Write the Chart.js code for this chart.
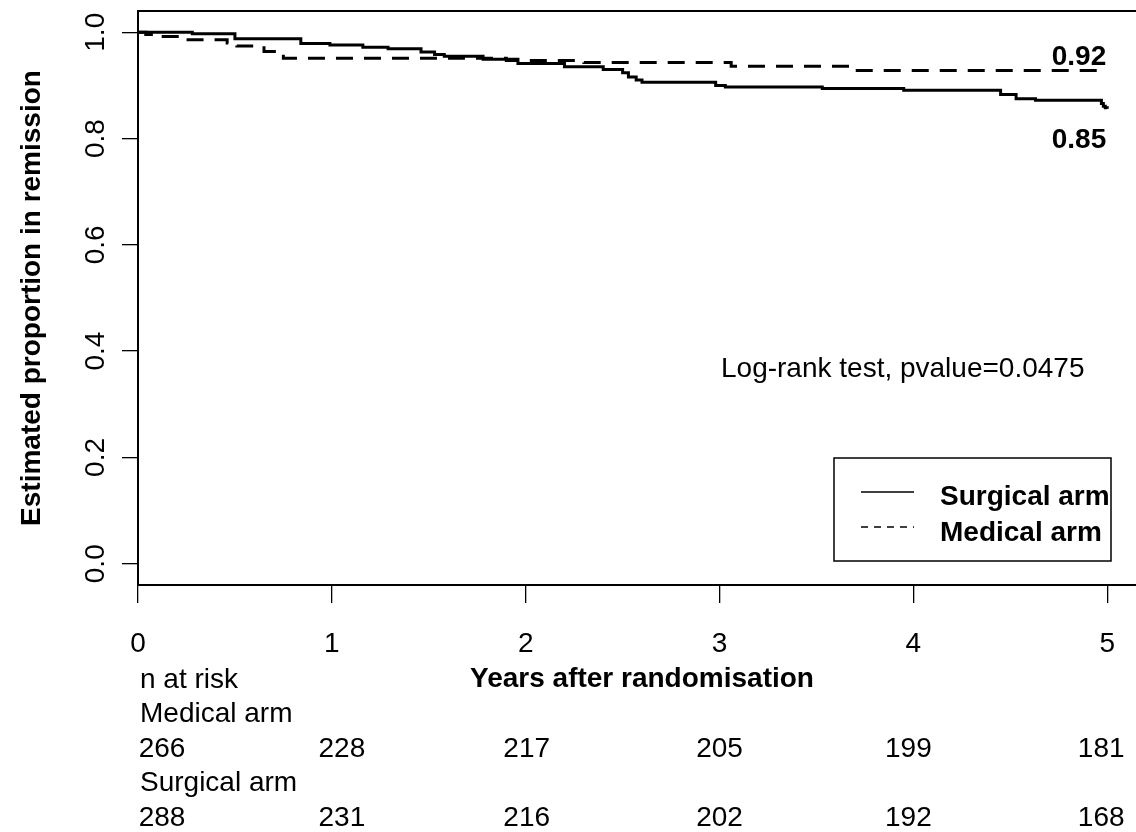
<!DOCTYPE html>
<html>
<head>
<meta charset="utf-8">
<title>Remission curves</title>
<script src="https://cdn.jsdelivr.net/npm/chart.js@4.4.1/dist/chart.umd.min.js"></script>
<style>
  html, body { margin: 0; padding: 0; background: #fff; overflow: hidden; }
  #wrap { width: 1136px; height: 832px; overflow: hidden; }
  canvas { display: block; }
</style>
</head>
<body>
<div id="wrap"><canvas id="kmChart" width="1160" height="832"></canvas></div>
<script>
// Kaplan-Meier steps (years, proportion in remission)
const surgicalTimes = [0, 0.28, 0.50, 0.84, 0.99, 1.16, 1.29, 1.46, 1.53, 1.58, 1.78, 1.96, 2.20, 2.40, 2.50, 2.53, 2.57, 2.60, 2.98, 3.03, 3.53, 3.95, 4.45, 4.53, 4.63, 4.97, 4.98, 4.99, 5.00];
const surgicalSurv = [1.000, 0.997, 0.988, 0.979, 0.976, 0.972, 0.969, 0.963, 0.958, 0.955, 0.949, 0.941, 0.935, 0.930, 0.924, 0.916, 0.910, 0.906, 0.900, 0.897, 0.894, 0.891, 0.883, 0.875, 0.872, 0.866, 0.861, 0.858, 0.856];
const medicalTimes = [0, 0.04, 0.13, 0.25, 0.46, 0.51, 0.65, 0.75, 1.90, 2.30, 3.06, 3.70, 4.95];
const medicalSurv = [1.000, 0.996, 0.992, 0.986, 0.980, 0.974, 0.964, 0.951, 0.947, 0.943, 0.936, 0.928, 0.928];

// numbers at risk under the axis
const riskYears = [0, 1, 2, 3, 4, 5];
const medicalAtRisk = [266, 228, 217, 205, 199, 181];
const surgicalAtRisk = [288, 231, 216, 202, 192, 168];

const xTickValues = [0, 1, 2, 3, 4, 5];
const yTickValues = [0, 0.2, 0.4, 0.6, 0.8, 1.0];
const endLabels = ['0.92', '0.85'];
const seriesNames = ['Surgical arm', 'Medical arm'];
const pValueText = 'Log-rank test, pvalue=0.0475';

const FAMILY = '"Liberation Sans", Arial, Helvetica, sans-serif';

function toPoints(xs, ys) {
  return xs.map((x, i) => ({ x: x, y: ys[i] }));
}

// extra drawing: top frame line, legend box, annotations and risk table
const extras = {
  id: 'extras',
  afterDraw(chart) {
    const ctx = chart.ctx;
    const area = chart.chartArea;
    const xs = chart.scales.x;

    ctx.save();
    ctx.strokeStyle = '#000';
    ctx.fillStyle = '#000';

    // top of the frame (right side runs off the picture)
    ctx.lineWidth = 2;
    ctx.beginPath();
    ctx.moveTo(area.left, area.top);
    ctx.lineTo(area.right, area.top);
    ctx.stroke();

    // end-of-curve labels
    ctx.font = 'bold 28px ' + FAMILY;
    ctx.textAlign = 'right';
    ctx.textBaseline = 'alphabetic';
    const endX = xs.getPixelForValue(5) - 1;
    ctx.fillText(endLabels[0], endX, 65);
    ctx.fillText(endLabels[1], endX, 148);

    // log-rank text
    ctx.font = '28px ' + FAMILY;
    ctx.textAlign = 'left';
    ctx.fillText(pValueText, 721, 377);

    // legend
    ctx.lineWidth = 1.5;
    ctx.strokeRect(834, 458, 277, 103);
    ctx.lineWidth = 1.3;
    ctx.beginPath();
    ctx.moveTo(861, 492);
    ctx.lineTo(914, 492);
    ctx.stroke();
    ctx.setLineDash([7, 6]);
    ctx.beginPath();
    ctx.moveTo(861, 527);
    ctx.lineTo(914, 527);
    ctx.stroke();
    ctx.setLineDash([]);
    ctx.font = 'bold 28px ' + FAMILY;
    ctx.fillText(seriesNames[0], 940, 505);
    ctx.fillText(seriesNames[1], 940, 541);

    // risk table
    ctx.font = '28px ' + FAMILY;
    ctx.textAlign = 'left';
    ctx.fillText('n at risk', 140, 688);
    ctx.fillText('Medical arm', 140, 722);
    ctx.fillText('Surgical arm', 140, 791);
    const nudge = [24, 10, 1, 0, -5, -6];
    ctx.textAlign = 'center';
    riskYears.forEach((yr, i) => {
      const px = xs.getPixelForValue(yr) + nudge[i];
      ctx.fillText(String(medicalAtRisk[i]), px, 757);
      ctx.fillText(String(surgicalAtRisk[i]), px, 826);
    });

    ctx.restore();
  }
};

const ctx = document.getElementById('kmChart').getContext('2d');
new Chart(ctx, {
  type: 'line',
  data: {
    datasets: [
      {
        label: seriesNames[0],
        data: toPoints(surgicalTimes, surgicalSurv),
        borderColor: '#000',
        borderWidth: 3,
        stepped: true,
        pointRadius: 0,
        fill: false
      },
      {
        label: seriesNames[1],
        data: toPoints(medicalTimes, medicalSurv),
        borderColor: '#000',
        borderWidth: 3,
        borderDash: [17, 11],
        stepped: true,
        pointRadius: 0,
        fill: false
      }
    ]
  },
  options: {
    responsive: false,
    animation: false,
    devicePixelRatio: 1,
    layout: { autoPadding: false, padding: { left: 0, top: 11, right: 14, bottom: 0 } },
    plugins: {
      legend: { display: false },
      tooltip: { enabled: false }
    },
    scales: {
      x: {
        type: 'linear',
        min: 0,
        max: 5.2,
        afterBuildTicks: s => { s.ticks = xTickValues.map(v => ({ value: v })); },
        afterFit: s => { s.height = 247; s.paddingLeft = 0; s.paddingRight = 0; },
        grid: { drawOnChartArea: false, drawTicks: true, tickLength: 18, color: '#000', lineWidth: 1.3 },
        border: { display: true, color: '#000', width: 2 },
        ticks: {
          color: '#000',
          font: { size: 28, family: FAMILY },
          padding: 24,
          maxRotation: 0,
          autoSkip: false,
          callback: v => String(v)
        },
        title: {
          display: true,
          text: 'Years after randomisation',
          color: '#000',
          font: { size: 28, weight: 'bold', family: FAMILY },
          padding: { top: 0, bottom: 136 }
        }
      },
      y: {
        type: 'linear',
        min: -0.04,
        max: 1.04,
        afterBuildTicks: s => { s.ticks = yTickValues.map(v => ({ value: v })); },
        afterFit: s => { s.width = 138; s.paddingTop = 0; s.paddingBottom = 0; },
        grid: { drawOnChartArea: false, drawTicks: true, tickLength: 16, color: '#000', lineWidth: 1.3 },
        border: { display: true, color: '#000', width: 2 },
        ticks: {
          color: '#000',
          font: { size: 28, family: FAMILY },
          padding: 6,
          minRotation: 90,
          maxRotation: 90,
          crossAlign: 'center',
          autoSkip: false,
          callback: v => v.toFixed(1)
        },
        title: {
          display: true,
          text: 'Estimated proportion in remission',
          color: '#000',
          font: { size: 28, weight: 'bold', family: FAMILY },
          padding: { top: 15, bottom: 0 }
        }
      }
    }
  },
  plugins: [extras]
});
</script>
</body>
</html>
